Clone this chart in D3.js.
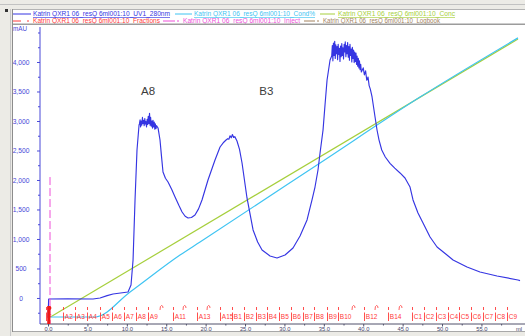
<!DOCTYPE html>
<html>
<head>
<meta charset="utf-8">
<script src="https://cdn.jsdelivr.net/npm/d3@7"></script>
<style>
html, body { margin: 0; padding: 0; background: #fff; }
svg { display: block; font-family: "Liberation Sans", Arial, sans-serif; }
</style>
</head>
<body>
<svg id="chart" width="525" height="336"></svg>
<script>
// ---- UV 280 nm trace (ml, mAU) ----
const uvVolume = [
  0.00, 0.08, 2.50, 5.71, 6.60, 7.50, 8.25, 9.20, 10.15, 10.53, 10.79, 11.04, 11.29, 11.55,
  11.60, 11.68, 11.75, 11.82, 11.90, 11.98, 12.05, 12.12, 12.20, 12.28, 12.35, 12.42, 12.50,
  12.58, 12.65, 12.72, 12.80, 12.88, 12.95, 13.02, 13.10, 13.18, 13.25, 13.32, 13.40, 13.48,
  13.55, 13.62, 13.70, 13.78, 13.96, 14.21, 14.40, 14.59, 14.90, 15.23, 15.70, 16.12, 16.60,
  17.01, 17.40, 17.77, 18.20, 18.65, 19.10, 19.54, 20.30, 21.19, 21.83, 22.30, 22.59, 22.80,
  22.95, 23.10, 23.25, 23.40, 23.55, 23.70, 23.98, 24.30, 24.62, 25.25, 26.02, 26.60, 27.16,
  28.17, 29.06, 30.08, 31.09, 31.98, 32.87, 33.50, 33.88, 34.26, 34.52, 34.90, 35.15, 35.41,
  35.79, 36.00, 36.08, 36.15, 36.22, 36.30, 36.38, 36.45, 36.52, 36.60, 36.68, 36.75, 36.82,
  36.90, 36.98, 37.05, 37.12, 37.20, 37.28, 37.35, 37.42, 37.50, 37.58, 37.65, 37.72, 37.80,
  37.88, 37.95, 38.02, 38.10, 38.18, 38.25, 38.32, 38.40, 38.48, 38.55, 38.62, 38.70, 38.78,
  38.85, 38.92, 39.00, 39.08, 39.15, 39.22, 39.30, 39.38, 39.45, 39.52, 39.60, 39.68, 39.76,
  40.00, 40.15, 40.30, 40.45, 40.61, 40.75, 40.90, 41.12, 41.50, 41.75, 42.00, 42.35, 42.80,
  43.40, 44.00, 44.67, 45.30, 45.94, 46.32, 46.95, 47.59, 48.48, 49.37, 50.63, 51.40, 53.17,
  54.82, 56.98, 59.64, 59.90
];
const uvAbs = [
  -335, -17, -15, -17, 0, 40, 68, 85, 102, 220, 644, 1661, 2508, 2932,
  2950, 3020, 2900, 3000, 2930, 3060, 2960, 3010, 2920, 3040, 2950, 2990, 2900,
  3030, 2940, 3080, 2960, 3130, 2930, 3060, 2910, 3000, 2880, 3010, 2900, 2980,
  2860, 2950, 2870, 2920, 2882, 2678, 2400, 2136, 2030, 1966, 1840, 1712, 1570,
  1458, 1385, 1356, 1365, 1407, 1510, 1661, 2000, 2339, 2559, 2640, 2678, 2700,
  2690, 2750, 2715, 2770, 2720, 2735, 2661, 2520, 2288, 1695, 1153, 950, 814,
  712, 678, 729, 847, 1051, 1322, 1661, 1881, 2169, 2458, 2847, 3271, 3695,
  4034, 4100, 4280, 4020, 4320, 4110, 4350, 4060, 4290, 4140, 4260, 4040, 4300,
  4130, 4230, 4010, 4270, 4090, 4310, 4110, 4240, 4050, 4300, 4170, 4340, 4090,
  4280, 4140, 4330, 4080, 4260, 4030, 4300, 4110, 4220, 4000, 4250, 4060, 4200,
  3990, 4170, 4010, 4150, 3960, 4100, 3930, 4060, 3900, 4020, 3870, 3960, 3830,
  3900, 3780, 3850, 3690, 3746, 3600, 3540, 3407, 3068, 2847, 2680, 2508, 2390,
  2283, 2200, 2119, 2034, 1881, 1661, 1441, 1271, 1034, 864, 729, 644, 525,
  441, 373, 305, 295
];

// ---- Conductivity (% of range) ----
const condVolume = [0.00, 5.96, 10.41, 16.75, 19.29, 34.52, 47.21, 59.64];
const condPct    = [0.0, 0.0, 9.0, 22.3, 27.0, 55.4, 79.1, 100.4];

// ---- Concentration %B ----
const concVolume = [0.30, 59.64];
const concPct    = [0.0, 100.0];

// ---- Fractions ----
const fractionNames = [
  "F", "A2", "A3", "A4", "A5", "A6", "A7", "A8", "A9", "A10", "A11", "A12", "A13", "A14", "A15",
  "B1", "B2", "B3", "B4", "B5", "B6", "B7", "B8", "B9", "B10", "B11", "B12", "B13", "B14", "B15",
  "C1", "C2", "C3", "C4", "C5", "C6", "C7", "C8", "C9"
];
const fractionStart = [
  -0.30, 1.94, 3.43, 4.99, 6.60, 8.08, 9.64, 11.17, 12.65, 14.34, 15.86, 17.26, 18.91, 20.30, 21.83,
  23.35, 24.87, 26.40, 27.79, 29.31, 30.84, 32.36, 33.76, 35.41, 36.80, 38.71, 40.10, 41.62, 43.15, 44.67,
  46.19, 47.72, 49.24, 50.76, 52.16, 53.68, 55.20, 56.73, 58.25
];
const unlabeledFractions = ["A10", "A12", "A14", "B11", "B13", "B15"];
const injectVolume = 0.25;

// ---- Axis ticks ----
const yTickValues = [0, 500, 1000, 1500, 2000, 2500, 3000, 3500, 4000];
const yMinorTicks = [-250, 250, 750, 1250, 1750, 2250, 2750, 3250, 3750, 4250, 4500];
const xTickValues = [0, 5, 10, 15, 20, 25, 30, 35, 40, 45, 50, 55];
const xMinorTicks = [2.5, 7.5, 12.5, 17.5, 22.5, 27.5, 32.5, 37.5, 42.5, 47.5, 52.5, 57.5];

// ---- Peak annotations ----
const peakNames = ["A8", "B3"];
const peakVolume = [12.7, 27.7];
const peakLabelLevel = [3490, 3490];

// ---- Legend ----
const legendNames = [
  "Katrin QXR1 06_resQ 6ml001:10_UV1_280nm",
  "Katrin QXR1 06_resQ 6ml001:10_Cond%",
  "Katrin QXR1 06_resQ 6ml001:10_Conc",
  "Katrin QXR1 06_resQ 6ml001:10_Fractions",
  "Katrin QXR1 06_resQ 6ml001:10_Inject",
  "Katrin QXR1 06_resQ 6ml001:10_Logbook"
];

const C = {
  uv: "#3535e2", cond: "#3fc4f2", conc: "#a6cf3c",
  frac: "#ff3a3a", inject: "#ee4fd8", logbook: "#a3825e",
  axis: "#4848d8", frame: "#8c8c8c"
};

const W = 525, H = 336;
const svg = d3.select("#chart");

const x = d3.scaleLinear().domain([-1.02, 60.53]).range([40, 525]);
const y = d3.scaleLinear().domain([-441, 4593]).range([324, 27]);
const y2 = d3.scaleLinear().domain([0, 100]).range([317, 39]);

// window chrome
svg.append("rect").attr("width", W).attr("height", H).attr("fill", "#ecebe6");
svg.append("line").attr("x1", 0).attr("x2", W).attr("y1", 4.5).attr("y2", 4.5)
  .attr("stroke", "#c2c2c2");
svg.append("rect").attr("x", 13).attr("y", 9).attr("width", W - 13).attr("height", 322)
  .attr("fill", "#fff");
svg.append("rect").attr("x", 5).attr("y", 9).attr("width", 3).attr("height", 3).attr("fill", "#333");

// legend
const legendRows = [
  { i: 0, y: 14, x0: 13, x1: 31, tx: 33, w: 137, color: C.uv, dash: false },
  { i: 1, y: 14, x0: 175, x1: 192, tx: 194, w: 121, color: C.cond, dash: false },
  { i: 2, y: 14, x0: 320, x1: 335, tx: 338, w: 117, color: C.conc, dash: false },
  { i: 3, y: 21, x0: 13, x1: 21, tx: 33, w: 127, color: C.frac, dash: true },
  { i: 4, y: 21, x0: 163, x1: 175, tx: 183, w: 117, color: C.inject, dash: true },
  { i: 5, y: 21, x0: 304, x1: 315, tx: 323, w: 117, color: C.logbook, dash: true }
];
const lg = svg.append("g");
legendRows.forEach(r => {
  lg.append("line").attr("x1", r.x0).attr("x2", r.x1).attr("y1", r.y).attr("y2", r.y)
    .attr("stroke", r.color).attr("stroke-width", 1);
  if (r.dash) {
    lg.append("line").attr("x1", r.tx - 6).attr("x2", r.tx - 4).attr("y1", r.y).attr("y2", r.y)
      .attr("stroke", r.color).attr("stroke-width", 1);
  }
  lg.append("text").attr("x", r.tx).attr("y", r.y + 2.3)
    .attr("font-size", 6.5).attr("fill", r.color)
    .attr("text-decoration", "underline")
    .attr("textLength", r.w).attr("lengthAdjust", "spacingAndGlyphs")
    .text(legendNames[r.i]);
});
svg.append("line").attr("x1", 13).attr("x2", W).attr("y1", 24.2).attr("y2", 24.2)
  .attr("stroke", "#9c9c9c").attr("stroke-width", 1.6);

// y axis
const yAxis = svg.append("g").attr("transform", "translate(40,0)");
yAxis.append("line").attr("x1", 0).attr("x2", 0).attr("y1", 27).attr("y2", 324)
  .attr("stroke", C.axis).attr("stroke-width", 1);
const yMaj = d3.axisLeft(y).tickValues(yTickValues).tickSize(3).tickPadding(0);
const yMajG = yAxis.append("g").call(yMaj).attr("font-family", null);
yMajG.select(".domain").remove();
yMajG.selectAll(".tick line").attr("stroke", C.axis);
yMajG.selectAll(".tick text").attr("x", -19).attr("text-anchor", "middle")
  .attr("font-size", 6.7).attr("fill", C.axis);
const yMin = d3.axisLeft(y).tickValues(yMinorTicks).tickSize(2).tickFormat("");
const yMinG = yAxis.append("g").call(yMin);
yMinG.select(".domain").remove();
yMinG.selectAll(".tick line").attr("stroke", C.axis);
svg.append("text").attr("x", 20).attr("y", 31).attr("text-anchor", "middle")
  .attr("font-size", 6.3).attr("fill", C.axis).text("mAU");

// x axis
const xAxis = svg.append("g").attr("transform", "translate(0,324)");
xAxis.append("line").attr("x1", 40).attr("x2", W).attr("y1", 0).attr("y2", 0)
  .attr("stroke", "#50506a").attr("stroke-width", 1);
const xMaj = d3.axisBottom(x).tickValues(xTickValues).tickSize(2.5).tickPadding(0)
  .tickFormat(d3.format(".1f"));
const xMajG = xAxis.append("g").call(xMaj).attr("font-family", null);
xMajG.select(".domain").remove();
xMajG.selectAll(".tick line").attr("stroke", "#50506a");
xMajG.selectAll(".tick text").attr("y", 2.4).attr("font-size", 5.8).attr("fill", "#45456a");
const xMin = d3.axisBottom(x).tickValues(xMinorTicks).tickSize(1.5).tickFormat("");
const xMinG = xAxis.append("g").call(xMin);
xMinG.select(".domain").remove();
xMinG.selectAll(".tick line").attr("stroke", "#50506a");
svg.append("text").attr("x", 516).attr("y", 331).attr("font-size", 5.8)
  .attr("fill", "#45456a").text("ml");

// concentration and conductivity lines
const concData = concVolume.map((v, i) => [v, concPct[i]]);
const condData = condVolume.map((v, i) => [v, condPct[i]]);
const uvData = uvVolume.map((v, i) => [v, uvAbs[i]]);

svg.append("path").datum(concData)
  .attr("d", d3.line().x(d => x(d[0])).y(d => y2(d[1])))
  .attr("fill", "none").attr("stroke", C.conc).attr("stroke-width", 1.2);
svg.append("path").datum(condData)
  .attr("d", d3.line().curve(d3.curveMonotoneX).x(d => x(d[0])).y(d => y2(d[1])))
  .attr("fill", "none").attr("stroke", C.cond).attr("stroke-width", 1.2);

// UV trace
const uvLine = d3.line().x(d => x(d[0])).y(d => y(d[1]));
svg.append("path").datum(uvData).attr("d", uvLine)
  .attr("fill", "none").attr("stroke", C.uv).attr("stroke-width", 1.15)
  .attr("stroke-linejoin", "round");

// inject mark
svg.append("line").attr("x1", x(injectVolume)).attr("x2", x(injectVolume))
  .attr("y1", y(2050)).attr("y2", 324)
  .attr("stroke", C.inject).attr("stroke-width", 1)
  .attr("stroke-dasharray", "8,3");

// fraction marks
const fg = svg.append("g");
fractionNames.forEach((name, i) => {
  const fx = Math.round(x(fractionStart[i])) + 0.5;
  const hidden = unlabeledFractions.includes(name);
  if (hidden) {
    fg.append("path")
      .attr("d", `M${fx - 1.5},310 Q${fx - 1.5},305.5 ${fx},305.5 Q${fx + 1.5},305.5 ${fx + 1.5},308`)
      .attr("fill", "none").attr("stroke", C.frac).attr("stroke-width", 0.8);
  } else {
    fg.append("line").attr("x1", fx).attr("x2", fx).attr("y1", 307).attr("y2", 310)
      .attr("stroke", C.frac).attr("stroke-width", 0.9);
    fg.append("line").attr("x1", fx).attr("x2", fx).attr("y1", 312.5).attr("y2", 321)
      .attr("stroke", C.frac).attr("stroke-width", 0.9);
    fg.append("text").attr("x", fx + 1.3).attr("y", 319.2)
      .attr("font-size", 6.5).attr("fill", C.frac).text(name);
  }
});
// start-of-collection marker
const sx = x(0.1);
fg.append("rect").attr("x", sx - 1.6).attr("y", 306).attr("width", 3.2).attr("height", 18)
  .attr("fill", "#f01818");
fg.append("circle").attr("cx", sx + 0.6).attr("cy", 308).attr("r", 2).attr("fill", "#f01818");

// peak annotations
peakNames.forEach((n, i) => {
  svg.append("text").attr("x", x(peakVolume[i])).attr("y", y(peakLabelLevel[i]))
    .attr("text-anchor", "middle").attr("dominant-baseline", "middle")
    .attr("font-size", 11.5).attr("fill", "#3c3c3c").text(n);
});

// frame borders
svg.append("rect").attr("x", 0).attr("y", 331).attr("width", W).attr("height", 5).attr("fill", "#ecebe6");
svg.append("line").attr("x1", 13).attr("x2", W).attr("y1", 331.5).attr("y2", 331.5)
  .attr("stroke", "#a8a8a8");
svg.append("line").attr("x1", 10.5).attr("x2", 10.5).attr("y1", 9).attr("y2", 336)
  .attr("stroke", "#c8c8c8");
svg.append("line").attr("x1", 12.5).attr("x2", 12.5).attr("y1", 9).attr("y2", 332)
  .attr("stroke", C.frame);
svg.append("line").attr("x1", 13).attr("x2", W).attr("y1", 9.5).attr("y2", 9.5)
  .attr("stroke", "#b4b4b4");
</script>
</body>
</html>
